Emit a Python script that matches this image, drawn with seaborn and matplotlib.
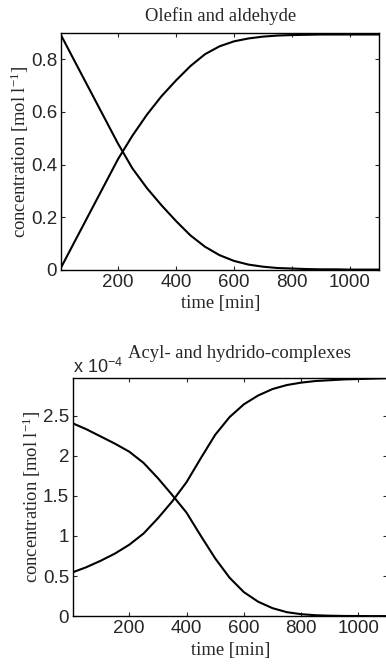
import numpy as np
import pandas as pd
import matplotlib
matplotlib.use("Agg")
import matplotlib.pyplot as plt
import seaborn as sns
from matplotlib.ticker import FuncFormatter

# time axis shared by all series [min]
time = [5, 50, 100, 150, 200, 250, 300, 350, 400, 450, 500, 550, 600,
        650, 700, 750, 800, 850, 900, 950, 1000, 1050, 1100]

# olefin / aldehyde [mol/l]
olefin = [0.89, 0.795, 0.69, 0.585, 0.48, 0.385, 0.31, 0.245, 0.185, 0.13,
          0.087, 0.055, 0.033, 0.019, 0.011, 0.006, 0.004, 0.002, 0.001,
          0.001, 0.0, 0.0, 0.0]
aldehyde = [0.01, 0.105, 0.21, 0.315, 0.42, 0.51, 0.59, 0.66, 0.72, 0.775,
            0.82, 0.85, 0.869, 0.88, 0.887, 0.891, 0.893, 0.894, 0.895,
            0.895, 0.895, 0.895, 0.895]

# acyl / hydrido complexes [mol/l]
acyl = [2.40e-4, 2.33e-4, 2.24e-4, 2.15e-4, 2.05e-4, 1.91e-4, 1.72e-4,
        1.51e-4, 1.29e-4, 1.00e-4, 0.72e-4, 0.48e-4, 0.30e-4, 0.18e-4,
        0.10e-4, 0.05e-4, 0.025e-4, 0.012e-4, 0.006e-4, 0.003e-4,
        0.002e-4, 0.001e-4, 0.001e-4]
hydrido = [0.55e-4, 0.61e-4, 0.69e-4, 0.78e-4, 0.89e-4, 1.03e-4, 1.22e-4,
           1.43e-4, 1.67e-4, 1.97e-4, 2.26e-4, 2.48e-4, 2.64e-4, 2.75e-4,
           2.83e-4, 2.88e-4, 2.91e-4, 2.93e-4, 2.94e-4, 2.95e-4, 2.955e-4,
           2.96e-4, 2.965e-4]

sns.set_style("ticks")
plt.rcParams["font.family"] = ["Liberation Sans", "DejaVu Sans"]
plt.rcParams["mathtext.fontset"] = "custom"
plt.rcParams["mathtext.rm"] = "Liberation Serif"
plt.rcParams["mathtext.it"] = "Liberation Serif:italic"
plt.rcParams["mathtext.sf"] = "Liberation Sans"

serif = {"family": "Liberation Serif", "size": 13.4}

fig = plt.figure(figsize=(3.86, 6.64), dpi=100)
ax1 = fig.add_axes([0.159, 0.594, 0.823, 0.356])
ax2 = fig.add_axes([0.190, 0.072, 0.813, 0.359])

df1 = pd.DataFrame({"time": time, "olefin": olefin, "aldehyde": aldehyde})
df2 = pd.DataFrame({"time": time, "acyl": acyl, "hydrido": hydrido})

for col in ["olefin", "aldehyde"]:
    sns.lineplot(data=df1, x="time", y=col, ax=ax1, color="black", lw=1.5)
for col in ["acyl", "hydrido"]:
    sns.lineplot(data=df2, x="time", y=col, ax=ax2, color="black", lw=1.5)

ax1.set_xlim(5, 1100)
ax1.set_ylim(0, 0.9)
ax1.set_yticks([0, 0.2, 0.4, 0.6, 0.8])
ax1.set_yticklabels(["0", "0.2", "0.4", "0.6", "0.8"])
ax1.set_title("Olefin and aldehyde", fontdict=serif, pad=9)

ax2.set_xlim(5, 1100)
ax2.set_ylim(0, 2.97e-4)
ax2.set_yticks([0, 0.5e-4, 1e-4, 1.5e-4, 2e-4, 2.5e-4])
ax2.yaxis.set_major_formatter(FuncFormatter(lambda v, p: f"{v / 1e-4:g}"))
ax2.set_title("Acyl- and hydrido-complexes", fontdict=serif, pad=14, x=0.53)
ax2.text(0.0, 1.005, r"x 10$^{\mathsf{-4}}$", transform=ax2.transAxes,
         fontsize=13, ha="left", va="bottom")

for ax in (ax1, ax2):
    ax.set_xticks([200, 400, 600, 800, 1000])
    ax.set_xlabel("time [min]", fontdict=serif, labelpad=3)
    ax.set_ylabel(r"concentration [mol l$^{-1}$]", fontdict=serif, labelpad=0)
    ax.tick_params(direction="in", top=True, right=True, length=3,
                   width=0.8, labelsize=13.5, pad=3)
    for s in ax.spines.values():
        s.set_linewidth(1.0)
        s.set_color("black")

fig.savefig("out.png", dpi=100, facecolor="white")
